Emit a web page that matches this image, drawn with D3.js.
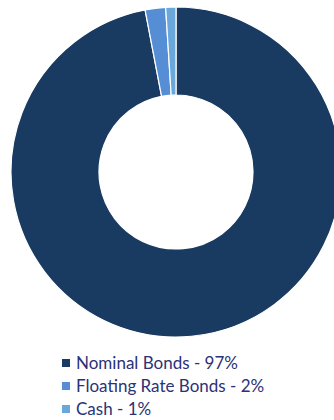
<!DOCTYPE html>
<html>
<head>
<meta charset="utf-8">
<script src="https://cdn.jsdelivr.net/npm/d3@7"></script>
<style>
  body { margin: 0; background: #fff; }
  svg { display: block; }
</style>
</head>
<body>
<svg width="334" height="420"></svg>
<script>
// chart data
const categories = ["Nominal Bonds", "Floating Rate Bonds", "Cash"];
const shares = [97, 2, 1];
const legendLabels = ["Nominal Bonds - 97%", "Floating Rate Bonds - 2%", "Cash - 1%"];
const colors = ["#193b62", "#558ed5", "#6aa8dc"];

const svg = d3.select("svg");

const cx = 176, cy = 172;
const outerR = 165, innerR = 77;

const pie = d3.pie().sort(null).value(d => d);
const arc = d3.arc().innerRadius(innerR).outerRadius(outerR);

const g = svg.append("g")
    .attr("transform", `translate(${cx},${cy})`);

g.selectAll("path")
    .data(pie(shares))
    .enter()
    .append("path")
    .attr("d", arc)
    .attr("fill", (d, i) => colors[i])
    .attr("stroke", "#fff")
    .attr("stroke-width", 1.2);

// legend
const legend = svg.append("g")
    .attr("transform", "translate(62, 363)");

const rowY = d3.scalePoint().domain(categories).range([0, 46]);

const rows = legend.selectAll("g.row")
    .data(categories)
    .enter()
    .append("g")
    .attr("class", "row")
    .attr("transform", d => `translate(0,${rowY(d)})`);

rows.append("rect")
    .attr("x", 0)
    .attr("y", -4)
    .attr("width", 8)
    .attr("height", 8)
    .attr("fill", (d, i) => colors[i]);

rows.append("text")
    .attr("x", 14)
    .attr("y", 0)
    .attr("dy", "0.36em")
    .style("font-family", "Lato, 'Open Sans', sans-serif")
    .style("font-size", "17px")
    .style("fill", "#2b3276")
    .text((d, i) => legendLabels[i]);
</script>
</body>
</html>
